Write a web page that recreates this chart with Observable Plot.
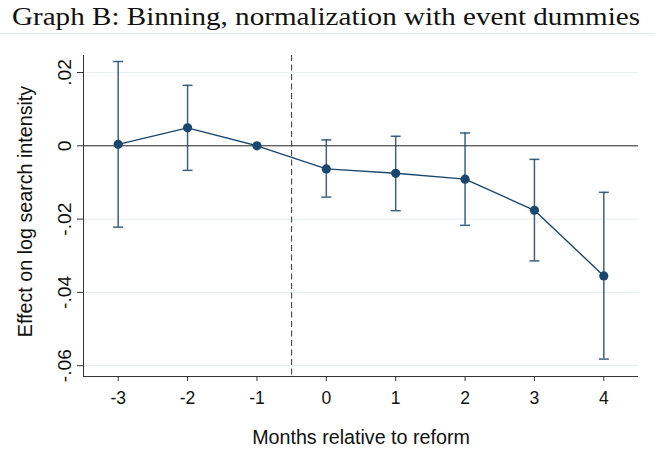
<!DOCTYPE html>
<html><head><meta charset="utf-8">
<script src="https://cdn.jsdelivr.net/npm/d3@7"></script>
<script src="https://cdn.jsdelivr.net/npm/@observablehq/plot@0.6"></script>
<style>
html,body{margin:0;padding:0;background:#fff;}
#title{height:33px;border-bottom:1px solid #e6ecee;font-family:"Liberation Serif",serif;font-size:26px;line-height:34px;padding-left:12px;color:#111;white-space:nowrap;box-sizing:content-box;overflow:hidden;}
#title span{display:inline-block;transform-origin:0 50%;}
#chart svg{display:block;}
</style></head>
<body>
<div id="title"><span id="tt">Graph B: Binning, normalization with event dummies</span></div>
<div id="chart"></div>
<script>
const months = [-3, -2, -1, 0, 1, 2, 3, 4];
const estimate = [0.0004, 0.0049, 0, -0.0063, -0.0075, -0.0091, -0.0176, -0.0355];
const ciLow = [-0.0222, -0.0067, null, -0.0140, -0.0177, -0.0217, -0.0314, -0.0582];
const ciHigh = [0.0230, 0.0165, null, 0.0016, 0.0026, 0.0035, -0.0037, -0.0127];
const yTicks = [0.02, 0, -0.02, -0.04, -0.06];
const gridTicks = [0.02, -0.02, -0.04, -0.06];
const reformLine = [-0.5];
const xDomain = [-3.5, 4.5];
const yDomain = [-0.06295, 0.02464];
const navy = "#1a476f";

const tt = document.getElementById("tt");
tt.style.transform = `scaleX(${628 / tt.getBoundingClientRect().width})`;

const data = months.map((m, i) => ({m, est: estimate[i], lo: ciLow[i], hi: ciHigh[i]}));
const ci = data.filter(d => d.lo != null);
const fmt = d => d === 0 ? "0" : d3.format(".2f")(d).replace("\u2212", "-").replace("0.", ".");
const cap = {draw(ctx, size) { ctx.moveTo(-5, 0); ctx.lineTo(5, 0); }};

const chart = Plot.plot({
  width: 655, height: 416,
  marginLeft: 83, marginRight: 17, marginTop: 21, marginBottom: 74,
  style: {fontFamily: "'Liberation Sans', Arial, sans-serif", fontSize: "17px", color: "#111", background: "#fff"},
  x: {domain: xDomain, axis: null},
  y: {domain: yDomain, axis: null},
  marks: [
    Plot.ruleY(gridTicks, {stroke: "#eaf1f3", strokeWidth: 1.2}),
    Plot.ruleY([0], {stroke: "#222", strokeWidth: 1}),
    Plot.ruleX(reformLine, {stroke: "#333", strokeWidth: 1, strokeDasharray: "6,3.5"}),
    Plot.ruleX([xDomain[0]], {stroke: "#333", strokeWidth: 1}),
    Plot.ruleY([yDomain[0]], {stroke: "#333", strokeWidth: 1}),
    Plot.axisY({ticks: yTicks, tickSize: 6, tickFormat: () => "", stroke: "#333"}),
    Plot.text(yTicks, {y: d => d, text: fmt, frameAnchor: "left", dx: -13, rotate: -90, textAnchor: "middle", lineAnchor: "bottom", fill: "#111", fontSize: 19.2}),
    Plot.axisX({ticks: months, tickSize: 5, tickPadding: 10, tickFormat: d => String(d), stroke: "#333", fill: "#111", fontSize: 17.5, label: null}),
    Plot.text(["Effect on log search intensity"], {frameAnchor: "left", dx: -51.5, dy: -4.5, rotate: -90, textAnchor: "middle", lineAnchor: "bottom", fill: "#111", fontSize: 19.7}),
    Plot.text(["Months relative to reform"], {frameAnchor: "bottom", dy: 61, textAnchor: "middle", lineAnchor: "middle", fill: "#111", fontSize: 19.7}),
    Plot.ruleX(ci, {x: "m", y1: "lo", y2: "hi", stroke: navy, strokeOpacity: 0.85, strokeWidth: 1.5}),
    Plot.dot(ci, {x: "m", y: "lo", symbol: cap, stroke: navy, strokeOpacity: 0.85, strokeWidth: 1.5, r: 5}),
    Plot.dot(ci, {x: "m", y: "hi", symbol: cap, stroke: navy, strokeOpacity: 0.85, strokeWidth: 1.5, r: 5}),
    Plot.line(data, {x: "m", y: "est", stroke: navy, strokeWidth: 1.4}),
    Plot.dot(data, {x: "m", y: "est", r: 4.6, fill: navy, stroke: "none"})
  ]
});
document.getElementById("chart").appendChild(chart);
</script>
</body></html>
